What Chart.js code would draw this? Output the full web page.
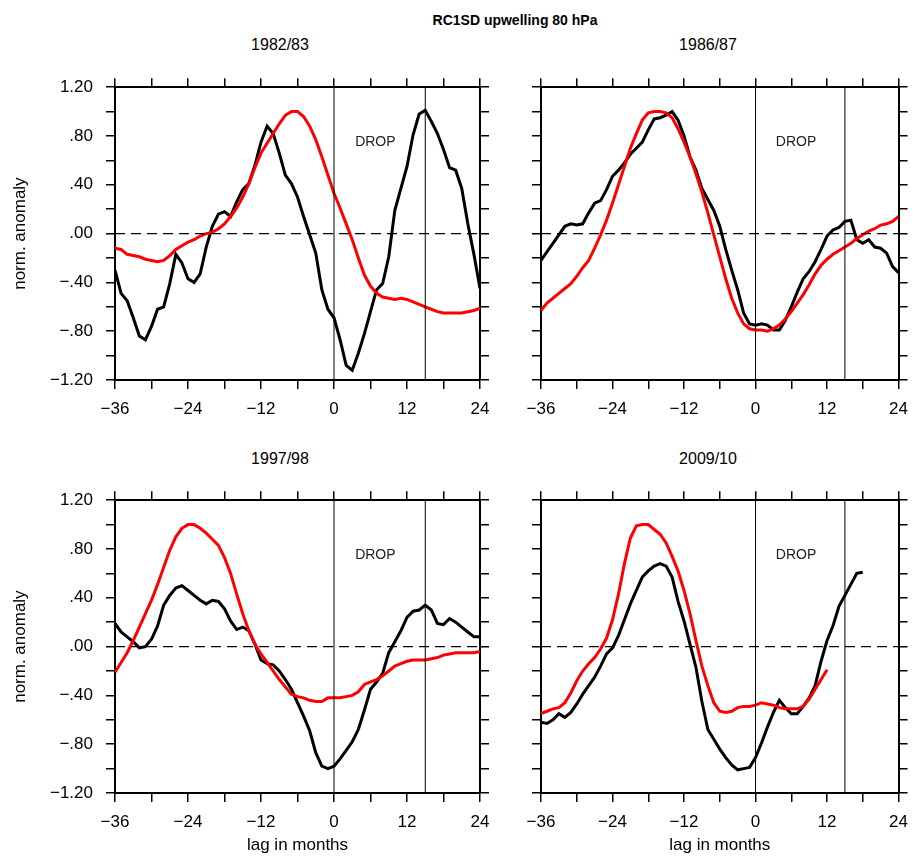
<!DOCTYPE html>
<html>
<head>
<meta charset="utf-8">
<script src="https://cdn.jsdelivr.net/npm/chart.js@4.4.1/dist/chart.umd.min.js"></script>
<style>
  body { margin: 0; background: #fff; width: 918px; height: 856px; position: relative; overflow: hidden;
         font-family: "Liberation Sans", Arial, sans-serif; color: #000; }
  .txt { position: absolute; white-space: nowrap; transform: translate(-50%, -50%); }
  #mainTitle { left: 515px; top: 20px; font-size: 14px; font-weight: bold; }
  .ptitle { font-size: 16px; }
  .box { position: absolute; }
</style>
</head>
<body>
<div id="mainTitle" class="txt">RC1SD upwelling 80 hPa</div>
<div class="txt ptitle" style="left:280px;top:45px">1982/83</div>
<div class="txt ptitle" style="left:708px;top:45px">1986/87</div>
<div class="txt ptitle" style="left:280px;top:459px">1997/98</div>
<div class="txt ptitle" style="left:708px;top:459px">2009/10</div>

<div class="box" style="left:0;top:64px"><canvas id="c1" width="500" height="361"></canvas></div>
<div class="box" style="left:510px;top:64px"><canvas id="c2" width="408" height="361"></canvas></div>
<div class="box" style="left:0;top:477px"><canvas id="c3" width="500" height="379"></canvas></div>
<div class="box" style="left:510px;top:477px"><canvas id="c4" width="408" height="379"></canvas></div>

<script>
// lag in months (x categories)
const lags = [-36, -35, -34, -33, -32, -31, -30, -29, -28, -27, -26, -25, -24, -23, -22, -21, -20, -19, -18, -17,
  -16, -15, -14, -13, -12, -11, -10, -9, -8, -7, -6, -5, -4, -3, -2, -1, 0, 1, 2, 3, 4, 5, 6, 7, 8, 9, 10, 11, 12,
  13, 14, 15, 16, 17, 18, 19, 20, 21, 22, 23, 24];

const xTickLabels = [-36, -24, -12, 0, 12, 24];
const yTickLabels = [-1.2, -0.8, -0.4, 0, 0.4, 0.8, 1.2];
const dropLags = [0, 15];

// 1982/83
const black8283 = [-0.30, -0.49, -0.55, -0.69, -0.84, -0.87, -0.76, -0.62, -0.60, -0.41, -0.17, -0.24, -0.37, -0.40,
  -0.33, -0.11, 0.06, 0.16, 0.18, 0.14, 0.26, 0.36, 0.41, 0.56, 0.75, 0.88, 0.82, 0.66, 0.48, 0.41, 0.30, 0.14,
  -0.01, -0.16, -0.46, -0.62, -0.69, -0.87, -1.08, -1.12, -0.98, -0.82, -0.64, -0.46, -0.41, -0.19, 0.19, 0.37,
  0.55, 0.81, 0.98, 1.01, 0.92, 0.82, 0.69, 0.54, 0.52, 0.37, 0.08, -0.17, -0.45];
const red8283 = [-0.12, -0.13, -0.17, -0.18, -0.19, -0.21, -0.22, -0.23, -0.22, -0.18, -0.13, -0.10, -0.07, -0.05,
  -0.02, 0.00, 0.01, 0.04, 0.08, 0.14, 0.21, 0.30, 0.41, 0.54, 0.66, 0.74, 0.82, 0.90, 0.97, 1.00, 1.00, 0.96,
  0.88, 0.77, 0.63, 0.48, 0.33, 0.21, 0.08, -0.05, -0.20, -0.34, -0.43, -0.49, -0.52, -0.53, -0.54, -0.53, -0.54,
  -0.56, -0.58, -0.60, -0.62, -0.64, -0.65, -0.65, -0.65, -0.65, -0.64, -0.63, -0.61];

// 1986/87
const black8687 = [-0.22, -0.15, -0.08, -0.01, 0.06, 0.08, 0.07, 0.08, 0.17, 0.25, 0.27, 0.36, 0.47, 0.52, 0.58,
  0.65, 0.70, 0.75, 0.85, 0.94, 0.95, 0.97, 1.00, 0.93, 0.80, 0.63, 0.52, 0.37, 0.28, 0.19, 0.06, -0.13, -0.30,
  -0.46, -0.65, -0.74, -0.75, -0.74, -0.75, -0.79, -0.79, -0.71, -0.60, -0.48, -0.37, -0.31, -0.23, -0.13, -0.02,
  0.03, 0.05, 0.10, 0.11, -0.05, -0.08, -0.05, -0.11, -0.12, -0.16, -0.27, -0.32];
const red8687 = [-0.63, -0.57, -0.53, -0.49, -0.45, -0.41, -0.35, -0.28, -0.22, -0.12, -0.01, 0.11, 0.25, 0.40,
  0.55, 0.70, 0.82, 0.93, 0.99, 1.00, 1.00, 0.99, 0.95, 0.86, 0.75, 0.63, 0.49, 0.34, 0.17, -0.01, -0.19, -0.37,
  -0.53, -0.65, -0.74, -0.78, -0.79, -0.79, -0.80, -0.78, -0.75, -0.70, -0.64, -0.57, -0.50, -0.42, -0.33, -0.26,
  -0.21, -0.17, -0.14, -0.11, -0.08, -0.04, -0.01, 0.02, 0.04, 0.07, 0.08, 0.10, 0.14];

// 1997/98
const black9798 = [0.19, 0.12, 0.08, 0.04, -0.01, 0.00, 0.06, 0.17, 0.34, 0.42, 0.48, 0.50, 0.46, 0.42, 0.38, 0.35,
  0.38, 0.37, 0.31, 0.21, 0.14, 0.16, 0.13, 0.02, -0.11, -0.14, -0.15, -0.20, -0.27, -0.35, -0.46, -0.57, -0.69,
  -0.87, -0.98, -1.00, -0.98, -0.92, -0.85, -0.78, -0.68, -0.52, -0.35, -0.29, -0.22, -0.05, 0.04, 0.13, 0.24,
  0.29, 0.30, 0.34, 0.30, 0.19, 0.18, 0.23, 0.20, 0.16, 0.12, 0.08, 0.08];
const red9798 = [-0.21, -0.13, -0.05, 0.05, 0.16, 0.27, 0.38, 0.51, 0.65, 0.79, 0.90, 0.97, 1.00, 1.00, 0.97, 0.93,
  0.88, 0.83, 0.73, 0.60, 0.43, 0.27, 0.13, 0.02, -0.06, -0.13, -0.20, -0.27, -0.33, -0.39, -0.41, -0.42, -0.44,
  -0.45, -0.45, -0.42, -0.42, -0.42, -0.41, -0.40, -0.37, -0.31, -0.29, -0.27, -0.24, -0.20, -0.16, -0.14, -0.12,
  -0.11, -0.11, -0.11, -0.10, -0.09, -0.07, -0.06, -0.05, -0.05, -0.05, -0.05, -0.04];

// 2009/10 (series stop before lag 24)
const black0910 = [-0.62, -0.63, -0.60, -0.55, -0.58, -0.54, -0.47, -0.39, -0.32, -0.25, -0.16, -0.06, -0.01, 0.09,
  0.22, 0.35, 0.46, 0.57, 0.62, 0.66, 0.68, 0.66, 0.57, 0.37, 0.21, 0.02, -0.17, -0.45, -0.68, -0.76, -0.84, -0.91,
  -0.97, -1.01, -1.00, -0.99, -0.91, -0.79, -0.66, -0.54, -0.44, -0.50, -0.55, -0.55, -0.49, -0.42, -0.32, -0.12,
  0.05, 0.17, 0.33, 0.42, 0.51, 0.60, 0.61];
const red0910 = [-0.55, -0.53, -0.51, -0.50, -0.46, -0.38, -0.28, -0.20, -0.14, -0.09, -0.02, 0.07, 0.22, 0.43,
  0.68, 0.89, 0.99, 1.00, 1.00, 0.96, 0.92, 0.85, 0.74, 0.62, 0.46, 0.27, 0.05, -0.16, -0.32, -0.46, -0.53, -0.54,
  -0.53, -0.50, -0.49, -0.49, -0.48, -0.46, -0.47, -0.48, -0.50, -0.51, -0.51, -0.51, -0.49, -0.43, -0.35, -0.27,
  -0.19];

const FONT = '"Liberation Sans", Arial, sans-serif';

function fmtY(v) {
  const r = Math.round(v * 100) / 100;
  let s = Math.abs(r).toFixed(2);
  if (s.startsWith('0')) s = s.slice(1);
  return (r < 0 ? '\u2212' : '') + s;
}

function series(values) {
  return values.map((v, i) => ({ x: lags[i], y: v }));
}

const dropLabel = {
  id: 'dropLabel',
  afterDatasetsDraw(chart) {
    const { ctx, scales } = chart;
    ctx.save();
    ctx.font = '14px ' + FONT;
    ctx.fillStyle = '#222';
    ctx.textAlign = 'center';
    ctx.textBaseline = 'middle';
    ctx.fillText('DROP', scales.x.getPixelForValue(6.8), scales.y.getPixelForValue(0.75));
    ctx.restore();
  }
};

function makePanel(id, black, red, opt) {
  const ctx = document.getElementById(id).getContext('2d');
  const yMin = yTickLabels[0], yMax = yTickLabels[yTickLabels.length - 1];
  const xMin = lags[0], xMax = lags[lags.length - 1];

  const refLines = dropLags.map(l => ({
    data: [{ x: l, y: yMin }, { x: l, y: yMax }],
    borderColor: '#000', borderWidth: 1, pointRadius: 0
  }));

  const grid = { drawOnChartArea: false, drawTicks: true, tickLength: 9, color: '#000', lineWidth: 1.5 };
  const border = { display: true, color: '#000', width: 2 };
  const tickFont = { family: FONT, size: 17 };

  return new Chart(ctx, {
    type: 'line',
    data: {
      datasets: [
        ...refLines,
        { data: [{ x: xMin, y: 0 }, { x: xMax, y: 0 }], borderColor: '#000', borderWidth: 1.2,
          borderDash: [10, 6], pointRadius: 0 },
        { data: series(red), borderColor: '#ff0000', borderWidth: 3, pointRadius: 0 },
        { data: series(black), borderColor: '#000', borderWidth: 3, pointRadius: 0 }
      ]
    },
    options: {
      responsive: false,
      devicePixelRatio: 1,
      animation: false,
      layout: { padding: 0 },
      plugins: { legend: { display: false }, tooltip: { enabled: false } },
      scales: {
        x: {
          type: 'linear', position: 'bottom', min: xMin, max: xMax,
          grid, border,
          ticks: {
            stepSize: 6, autoSkip: false, maxRotation: 0, padding: 10, color: '#000', font: tickFont,
            callback: v => xTickLabels.includes(v) ? (v < 0 ? '\u2212' + Math.abs(v) : String(v)) : ''
          },
          title: { display: opt.xTitle, text: 'lag in months', color: '#000',
                   font: { family: FONT, size: 17 }, padding: { top: 0, bottom: 0 } },
          afterFit: s => { s.height = opt.bottom; }
        },
        x2: {
          type: 'linear', position: 'top', min: xMin, max: xMax,
          grid, border,
          ticks: { stepSize: 6, autoSkip: false, maxRotation: 0, callback: () => '' },
          afterFit: s => { s.height = 15; }
        },
        y: {
          type: 'linear', position: 'left', min: yMin, max: yMax,
          grid, border,
          ticks: {
            stepSize: 0.2, autoSkip: false, padding: 13, color: '#000', font: tickFont,
            callback: v => (opt.yLabels && yTickLabels.some(t => Math.abs(t - v) < 1e-6)) ? fmtY(v) : ''
          },
          title: { display: opt.yLabels, text: 'norm. anomaly', color: '#000',
                   font: { family: FONT, size: 17 }, padding: { top: 10, bottom: 0 } },
          afterFit: s => { s.width = opt.left; }
        },
        y2: {
          type: 'linear', position: 'right', min: yMin, max: yMax,
          grid, border,
          ticks: { stepSize: 0.2, autoSkip: false, callback: () => '' },
          afterFit: s => { s.width = opt.right; }
        }
      }
    },
    plugins: [dropLabel]
  });
}

makePanel('c1', black8283, red8283, { yLabels: true, xTitle: false, left: 115, right: 20, bottom: 45 });
makePanel('c2', black8687, red8687, { yLabels: false, xTitle: false, left: 31, right: 12, bottom: 45 });
makePanel('c3', black9798, red9798, { yLabels: true, xTitle: true, left: 115, right: 20, bottom: 63 });
makePanel('c4', black0910, red0910, { yLabels: false, xTitle: true, left: 31, right: 12, bottom: 63 });
</script>
</body>
</html>
